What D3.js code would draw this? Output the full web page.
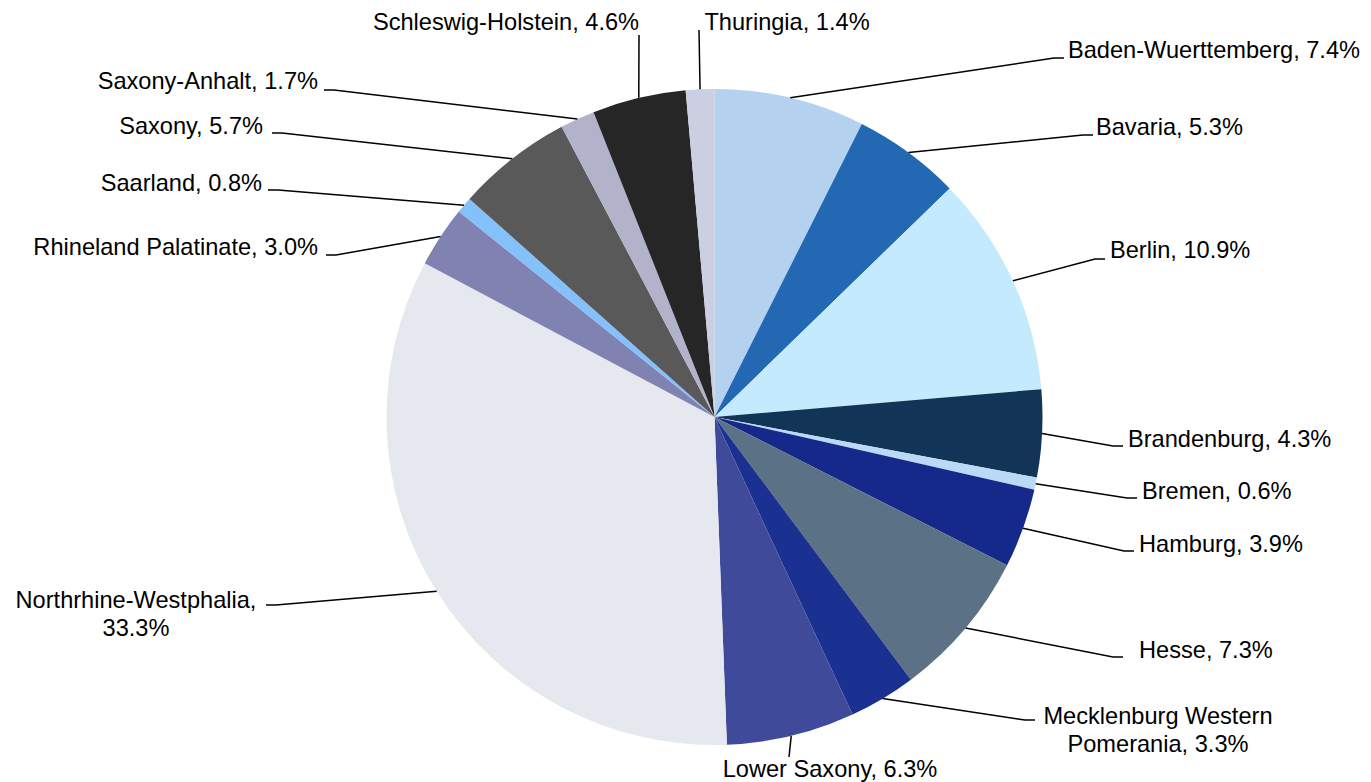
<!DOCTYPE html>
<html>
<head>
<meta charset="utf-8">
<script src="https://cdn.jsdelivr.net/npm/d3@7"></script>
<style>
  html, body { margin: 0; padding: 0; background: #fff; }
  svg text { font-family: 'Liberation Sans', Arial, sans-serif; fill: #000; }
</style>
</head>
<body>
<div id="chart"></div>
<script>
const WIDTH = 1371;
const HEIGHT = 782;
const CX = 714.5;
const CY = 417;
const RADIUS = 328;
const FONT_SIZE = 23.6;

// data, clockwise from 12 o'clock
const STATES = [
  'Baden-Wuerttemberg', 'Bavaria', 'Berlin', 'Brandenburg', 'Bremen', 'Hamburg', 'Hesse',
  'Mecklenburg Western Pomerania', 'Lower Saxony', 'Northrhine-Westphalia', 'Rhineland Palatinate',
  'Saarland', 'Saxony', 'Saxony-Anhalt', 'Schleswig-Holstein', 'Thuringia'
];
const SHARES = [7.4, 5.3, 10.9, 4.3, 0.6, 3.9, 7.3, 3.3, 6.3, 33.3, 3.0, 0.8, 5.7, 1.7, 4.6, 1.4];
const COLORS = [
  '#b5d1f0', '#2368b2', '#c4eafd', '#123557', '#b9d9f7', '#15298a', '#5b7186', '#1b3191',
  '#3f4a9b', '#e5e8ee', '#8083b2', '#84c1fb', '#595959', '#b2b2cb', '#262626', '#cccfe2'
];
// label text lines (Excel wraps some labels)
const LABEL_LINES = [
  ['Baden-Wuerttemberg, 7.4%'], ['Bavaria, 5.3%'], ['Berlin, 10.9%'], ['Brandenburg, 4.3%'],
  ['Bremen, 0.6%'], ['Hamburg, 3.9%'], ['Hesse, 7.3%'], ['Mecklenburg Western', 'Pomerania, 3.3%'],
  ['Lower Saxony, 6.3%'], ['Northrhine-Westphalia,', '33.3%'], ['Rhineland Palatinate, 3.0%'],
  ['Saarland, 0.8%'], ['Saxony, 5.7%'], ['Saxony-Anhalt, 1.7%'], ['Schleswig-Holstein, 4.6%'],
  ['Thuringia, 1.4%']
];

// label layout: text anchor point, leader elbow and horizontal stub length
const LABEL_LAYOUT = [
  { x: 1068, y: 58, anchor: 'start', ex: 1054, ey: 58, stub: 10 },
  { x: 1096, y: 135, anchor: 'start', ex: 1083, ey: 135, stub: 10 },
  { x: 1110, y: 258, anchor: 'start', ex: 1095, ey: 259, stub: 10 },
  { x: 1128, y: 447, anchor: 'start', ex: 1113, ey: 446, stub: 10 },
  { x: 1142, y: 499, anchor: 'start', ex: 1127, ey: 498, stub: 10 },
  { x: 1139, y: 552, anchor: 'start', ex: 1124, ey: 551, stub: 10 },
  { x: 1139, y: 658, anchor: 'start', ex: 1113, ey: 657, stub: 10 },
  { x: 1158, y: 724, anchor: 'middle', ex: 1025, ey: 720, stub: 10, dy: 28 },
  { x: 830, y: 777, anchor: 'middle', ex: 789, ey: 757, stub: 0 },
  { x: 136, y: 608, anchor: 'middle', ex: 276, ey: 605, stub: -10, dy: 28 },
  { x: 318, y: 255, anchor: 'end', ex: 336, ey: 255, stub: -10 },
  { x: 262, y: 191, anchor: 'end', ex: 278, ey: 190, stub: -10 },
  { x: 263, y: 134, anchor: 'end', ex: 282, ey: 133, stub: -10 },
  { x: 318, y: 89, anchor: 'end', ex: 334, ey: 90, stub: -10 },
  { x: 506, y: 30, anchor: 'middle', ex: 639, ey: 35, stub: 0 },
  { x: 787, y: 30, anchor: 'middle', ex: 699, ey: 30, stub: 0 }
];

const slices = STATES.map((name, i) => ({
  name,
  value: SHARES[i],
  color: COLORS[i],
  lines: LABEL_LINES[i],
  layout: LABEL_LAYOUT[i]
}));

const svg = d3.select('#chart')
  .append('svg')
  .attr('width', WIDTH)
  .attr('height', HEIGHT);

const pie = d3.pie()
  .value(d => d.value)
  .sort(null);

const arc = d3.arc()
  .innerRadius(0)
  .outerRadius(RADIUS);

const arcs = pie(slices);

const g = svg.append('g')
  .attr('transform', `translate(${CX}, ${CY})`);

// draw slices
g.selectAll('path.slice')
  .data(arcs)
  .enter()
  .append('path')
  .attr('class', 'slice')
  .attr('d', arc)
  .attr('fill', d => d.data.color);

// leader lines
const edgePoint = (d) => {
  const a = (d.startAngle + d.endAngle) / 2;
  return [CX + RADIUS * Math.sin(a), CY - RADIUS * Math.cos(a)];
};

svg.selectAll('polyline.leader')
  .data(arcs)
  .enter()
  .append('polyline')
  .attr('class', 'leader')
  .attr('points', d => {
    const [sx, sy] = edgePoint(d);
    const l = d.data.layout;
    return [[sx, sy], [l.ex, l.ey], [l.ex + l.stub, l.ey]].map(p => p.join(',')).join(' ');
  })
  .attr('fill', 'none')
  .attr('stroke', '#000')
  .attr('stroke-width', 1.5);

// labels
const labels = svg.selectAll('text.label')
  .data(arcs)
  .enter()
  .append('text')
  .attr('class', 'label')
  .attr('x', d => d.data.layout.x)
  .attr('y', d => d.data.layout.y)
  .attr('text-anchor', d => d.data.layout.anchor)
  .style('font-size', `${FONT_SIZE}px`);

labels.each(function (d) {
  const t = d3.select(this);
  d.data.lines.forEach((line, i) => {
    t.append('tspan')
      .attr('x', d.data.layout.x)
      .attr('dy', i === 0 ? 0 : d.data.layout.dy)
      .text(line);
  });
});
</script>
</body>
</html>
